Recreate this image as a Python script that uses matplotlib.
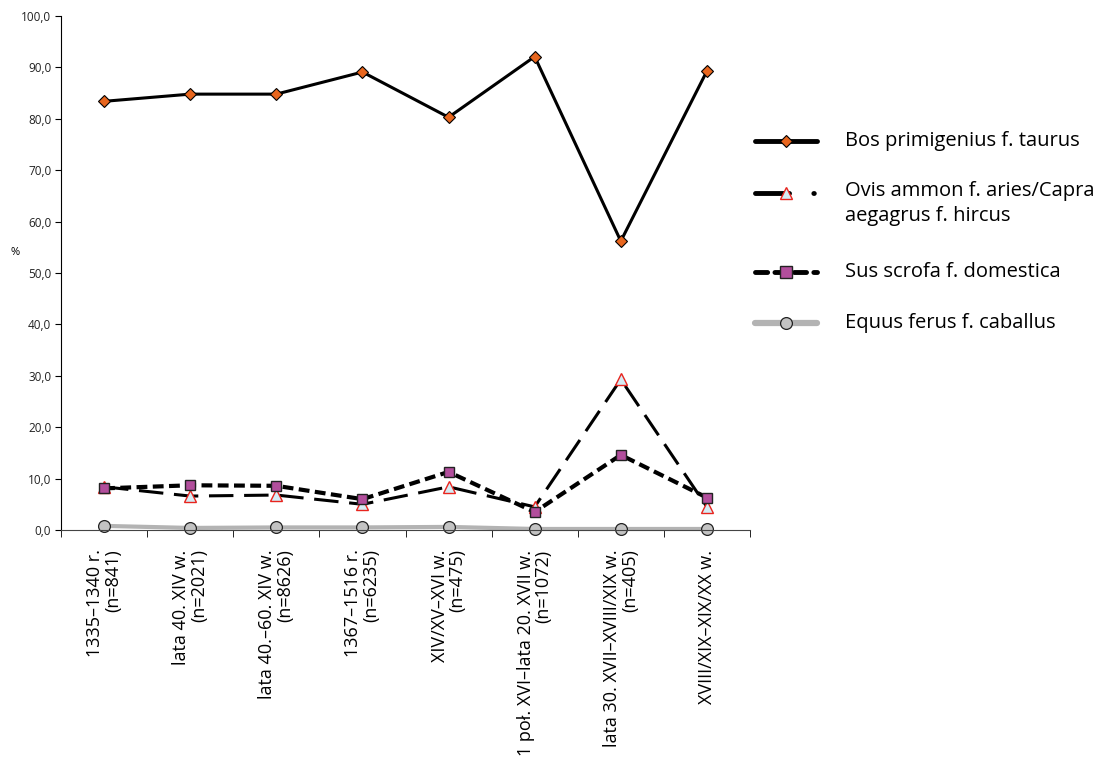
import matplotlib
matplotlib.use("Agg")
import matplotlib.pyplot as plt
from matplotlib.lines import Line2D
from matplotlib.ticker import FuncFormatter, FixedLocator
import numpy as np

plt.rcParams['font.family'] = ['Open Sans', 'DejaVu Sans']

categories = [
    "1335–1340 r.\n(n=841)",
    "lata 40. XIV w.\n(n=2021)",
    "lata 40.–60. XIV w.\n(n=8626)",
    "1367–1516 r.\n(n=6235)",
    "XIV/XV–XVI w.\n(n=475)",
    "1 poł. XVI–lata 20. XVII w.\n(n=1072)",
    "lata 30. XVII–XVIII/XIX w.\n(n=405)",
    "XVIII/XIX–XIX/XX w.",
]
bos = [83.4, 84.8, 84.8, 89.1, 80.3, 92.1, 56.2, 89.3]
ovis = [8.4, 6.6, 6.8, 5.0, 8.4, 4.5, 29.3, 4.5]
sus = [8.1, 8.7, 8.6, 6.0, 11.3, 3.5, 14.6, 6.3]
equus = [0.8, 0.4, 0.5, 0.5, 0.6, 0.2, 0.2, 0.2]

labels = ["Bos primigenius f. taurus",
          "Ovis ammon f. aries/Capra\naegagrus f. hircus",
          "Sus scrofa f. domestica",
          "Equus ferus f. caballus"]

W, H = 1109, 773
fig = plt.figure(figsize=(W / 100, H / 100), dpi=100)
ax = fig.add_axes([61 / W, 1 - 530 / H, (750 - 61) / W, (530 - 16) / H])

x = np.arange(len(categories))

styles = [
    dict(color='black', lw=2.2, ls='-', marker='D', ms=6.5, mfc='#E8661E', mec='black', mew=0.8),
    dict(color='black', lw=2.2, ls=(0, (8, 3.5)), marker='^', ms=8.5, mfc='#D4ECF4', mec='#E8241E', mew=1.0),
    dict(color='black', lw=3.0, ls=(0, (2.6, 1.3)), marker='s', ms=7.5, mfc='#B24E9C', mec='#222222', mew=1.0),
    dict(color='#B3B3B3', lw=3.0, ls='-', marker='o', ms=8.5, mfc='#C3C3C3', mec='#222222', mew=0.9),
]
series = [bos, ovis, sus, equus]
zord = [4, 3, 5, 2]
for s, st, z in zip(series, styles, zord):
    ax.plot(x, s, zorder=z, clip_on=False, **st)

ax.set_xlim(-0.5, len(categories) - 0.5)
ax.set_ylim(0, 100)
ax.set_yticks(np.arange(0, 101, 10))
ax.yaxis.set_major_formatter(FuncFormatter(lambda v, p: f"{v:.1f}".replace('.', ',')))
ax.tick_params(axis='y', labelsize=8.5, length=4, width=0.8, colors='black', labelcolor='#222222', pad=3)
ax.xaxis.set_major_locator(FixedLocator(np.arange(len(categories) + 1) - 0.5))
ax.tick_params(axis='x', which='major', length=5, width=0.6, labelbottom=False)
ax.set_xticks(x, minor=True)
ax.tick_params(axis='x', which='minor', length=0, pad=14)
ax.set_xticklabels(categories, minor=True, rotation=90, fontsize=13,
                   ha='center', va='top', multialignment='right', linespacing=1.0)
ax.spines['top'].set_visible(False)
ax.spines['right'].set_visible(False)
for sp in ['left', 'bottom']:
    ax.spines[sp].set_linewidth(0.8)
ax.spines['bottom'].set_color('#444444')

fig.text(15 / W, 1 - 253 / H, "%", fontsize=8, ha='center', va='center')

# legend (manual)
leg_y = [141, 193, 272, 323]
leg_styles = [
    dict(color='black', lw=3.5, ls='-', marker='D', ms=6, mfc='#E8661E', mec='black', mew=0.8),
    dict(color='black', lw=3.5, ls=(0, (7, 5, 0.1, 5)), marker='^', ms=9, mfc='#D4ECF4', mec='#E8241E', mew=1.0),
    dict(color='black', lw=3.5, ls=(0, (2.5, 1.5)), marker='s', ms=8, mfc='#B24E9C', mec='#222222', mew=1.0),
    dict(color='#B3B3B3', lw=4.5, ls='-', marker='o', ms=8.5, mfc='#C3C3C3', mec='#222222', mew=0.9),
]
for yy, st, lab in zip(leg_y, leg_styles, labels):
    yf = 1 - yy / H
    ln = Line2D([755 / W, 817 / W], [yf, yf], transform=fig.transFigure,
                color=st['color'], lw=st['lw'], ls=st['ls'], solid_capstyle='round',
                dash_capstyle='round')
    fig.add_artist(ln)
    mk = Line2D([786 / W], [yf], transform=fig.transFigure, ls='none',
                marker=st['marker'], ms=st['ms'], mfc=st['mfc'], mec=st['mec'], mew=st['mew'])
    fig.add_artist(mk)
    if '\n' in lab:
        fig.text(845 / W, 1 - (193 - 12) / H, lab, fontsize=14.5, ha='left', va='top',
                 linespacing=1.35)
    else:
        fig.text(845 / W, yf, lab, fontsize=14.5, ha='left', va='center')

fig.savefig("out.png", dpi=100)
